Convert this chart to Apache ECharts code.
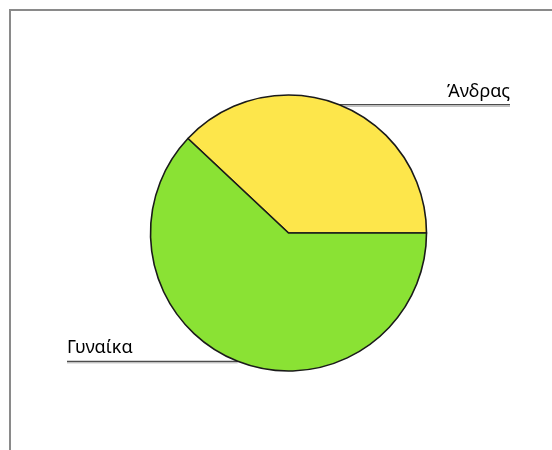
<!DOCTYPE html>
<html>
<head>
<meta charset="utf-8">
<script src="https://cdn.jsdelivr.net/npm/echarts@6/dist/echarts.min.js"></script>
<style>
  html, body { margin: 0; padding: 0; background: #fff; }
  #main { width: 552px; height: 450px; }
</style>
</head>
<body>
<div id="main"></div>
<script>
// data
var names = ['Άνδρας', 'Γυναίκα'];
var values = [38, 62];
var colors = ['#fde64b', '#8ae234'];

var chart = echarts.init(document.getElementById('main'), null, { renderer: 'canvas' });

var pieData = names.map(function (n, i) {
  return { name: n, value: values[i], itemStyle: { color: colors[i] } };
});

var option = {
  backgroundColor: '#ffffff',
  animation: false,
  graphic: [{
    type: 'rect',
    shape: { x: 10, y: 10, width: 600, height: 500 },
    style: { fill: 'none', stroke: '#8a8a8a', lineWidth: 2 }
  }],
  series: [{
    type: 'pie',
    left: 67,
    right: 42,
    top: 0,
    bottom: 0,
    center: ['50%', 233],
    radius: 138,
    startAngle: 0,
    clockwise: false,
    itemStyle: { borderColor: '#1a1a1a', borderWidth: 1.6 },
    label: {
      show: true,
      position: 'outer',
      alignTo: 'edge',
      edgeDistance: 0,
      fontFamily: 'Noto Sans',
      fontSize: 18,
      color: '#000'
    },
    labelLine: {
      show: true,
      length: 0,
      length2: 10,
      lineStyle: {
        color: '#222',
        width: 1,
        shadowColor: 'rgba(0,0,0,0.35)',
        shadowOffsetY: 1.5,
        shadowBlur: 0
      }
    },
    labelLayout: function (params) {
      var isLeft = params.labelRect.x < chart.getWidth() / 2;
      var points = params.labelLinePoints;
      points[2][0] = isLeft ? params.labelRect.x : params.labelRect.x + params.labelRect.width;
      return { labelLinePoints: points, dy: -13 };
    },
    data: pieData
  }]
};

chart.setOption(option);
</script>
</body>
</html>
